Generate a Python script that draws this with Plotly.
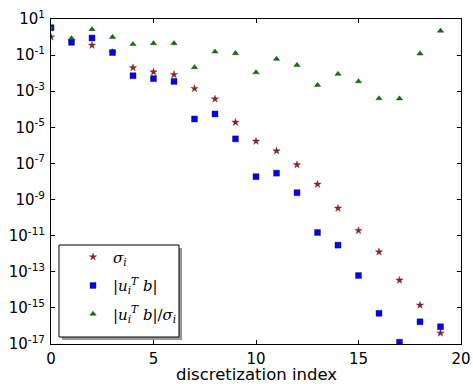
import plotly.graph_objects as go

index = list(range(20))
sigma = [1.0, 0.6, 0.35, 0.14, 0.02, 0.0117, 0.0083, 0.0014, 3.7e-4, 1.9e-5,
         1.7e-6, 4.9e-7, 8.5e-8, 7e-9, 3.3e-10, 1.9e-11, 1.25e-12, 3.4e-14, 1.4e-15, 4e-17]
utb = [3.3, 0.51, 0.89, 0.14, 0.0072, 0.005, 0.0035, 2.9e-5, 5.5e-5, 2.3e-6,
       1.85e-8, 2.9e-8, 2.4e-9, 1.5e-11, 3e-12, 6.2e-14, 5e-16, 1.25e-17, 1.7e-16, 9e-17]
ratio = [3.3, 0.85, 2.7, 1.0, 0.4, 0.45, 0.45, 0.021, 0.155, 0.126,
         0.011, 0.061, 0.028, 0.0022, 0.009, 0.0035, 4e-4, 3.9e-4, 0.12, 2.2]

ytick_exp = [1, -1, -3, -5, -7, -9, -11, -13, -15, -17]
xtick_vals = [0, 5, 10, 15, 20]

fig = go.Figure()
fig.add_trace(go.Scatter(x=index, y=sigma, mode="markers", name="<i>σ<sub>i</sub></i>",
                         legendgroup="a",
                         marker=dict(symbol="star", size=5.5, color="#b01515",
                                     line=dict(color="#333", width=0.4))))
fig.add_trace(go.Scatter(x=index, y=utb, mode="markers",
                         name="|<i>u<sub>i</sub><sup>T</sup> b</i>|",
                         legendgroup="b",
                         marker=dict(symbol="square", size=6, color="#0000ff",
                                     line=dict(color="#222", width=0.4))))
fig.add_trace(go.Scatter(x=index, y=ratio, mode="markers",
                         name="|<i>u<sub>i</sub><sup>T</sup> b</i>|/<i>σ<sub>i</sub></i>",
                         legendgroup="c",
                         marker=dict(symbol="triangle-up", size=5.5, color="#008000",
                                     line=dict(color="#222", width=0.4))))

axis_common = dict(showline=True, linecolor="black", linewidth=1, mirror="ticks",
                   ticks="inside", ticklen=4, tickcolor="black", showgrid=False,
                   zeroline=False, automargin=False,
                   tickfont=dict(family="DejaVu Sans", size=15, color="black"))

fig.update_xaxes(range=[0, 20], tickvals=xtick_vals, ticklabelstandoff=1, **axis_common)
fig.update_yaxes(type="log", range=[-17, 1],
                 tickvals=[10.0 ** e for e in ytick_exp],
                 ticktext=["10<sup>%d</sup>" % e for e in ytick_exp],
                 ticklabelstandoff=2,
                 **axis_common)

fig.add_annotation(text="discretization index", xref="paper", yref="paper",
                   x=0.5, y=0, xanchor="center", yanchor="top", yshift=-20,
                   showarrow=False, borderpad=0,
                   font=dict(family="DejaVu Sans", size=16.5, color="black"))

# legend frame and shadow
fig.add_shape(type="rect", xref="paper", yref="paper",
              x0=0.0268, x1=0.3195, y0=0.0123, y1=0.2954,
              fillcolor="#999", line=dict(width=0), layer="above")
fig.add_shape(type="rect", xref="paper", yref="paper",
              x0=0.0195, x1=0.3122, y0=0.0215, y1=0.3046,
              fillcolor="white", line=dict(color="black", width=1), layer="above")

fig.update_layout(
    width=473, height=384,
    margin=dict(l=51, r=12, t=19, b=40),
    plot_bgcolor="white", paper_bgcolor="white",
    legend=dict(x=0.0537, y=0.318, xanchor="left", yanchor="top",
                bgcolor="rgba(0,0,0,0)", borderwidth=0,
                font=dict(family="DejaVu Serif", size=15, color="black"),
                tracegroupgap=6, itemwidth=30),
)

fig.write_html("out.html", config={"displayModeBar": False},
               post_script="document.body.style.margin='0';")
